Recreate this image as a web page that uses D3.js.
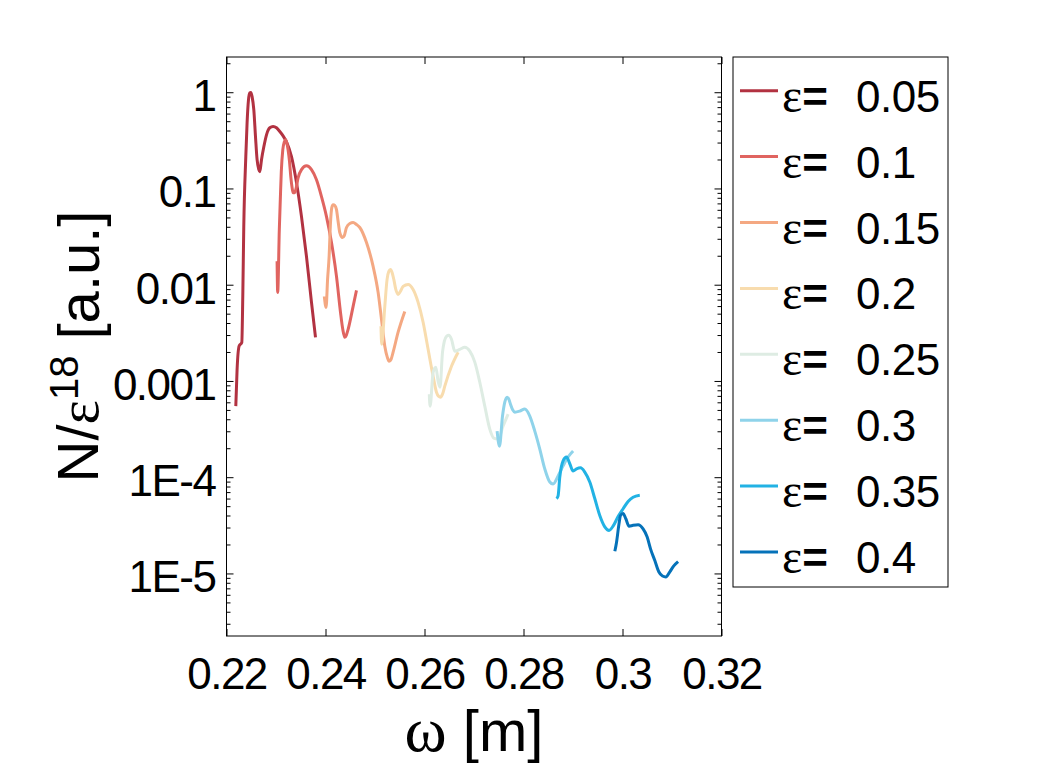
<!DOCTYPE html>
<html>
<head>
<meta charset="utf-8">
<script src="https://cdn.jsdelivr.net/npm/d3@7"></script>
<style>
  body { margin: 0; background: #fff; }
  text { font-family: "Liberation Sans", Arial, sans-serif; fill: #000; }
</style>
</head>
<body>
<div id="chart"></div>
<script>
// legend entries and line colours
const epsilons = ["0.05", "0.1", "0.15", "0.2", "0.25", "0.3", "0.35", "0.4"];
const colors = ["#b23241", "#e06460", "#f4a882", "#f8dcae", "#deece3", "#8fd3ea", "#22b2e4", "#0572b9"];

const xTicks = [0.22, 0.24, 0.26, 0.28, 0.30, 0.32];
const xTickLabels = ["0.22", "0.24", "0.26", "0.28", "0.3", "0.32"];
const yTicks = [1, 0.1, 0.01, 0.001, 1e-4, 1e-5];
const yTickLabels = ["1", "0.1", "0.01", "0.001", "1E-4", "1E-5"];

// eps = 0.05
const omega1 = [0.22188, 0.22214, 0.22255, 0.22309, 0.22329, 0.22349, 0.22390, 0.22416, 0.22444, 0.22471, 0.22491, 0.22517, 0.22552, 0.22586, 0.22618, 0.22653, 0.22673, 0.22707, 0.22754, 0.22808, 0.22875, 0.22941, 0.23010, 0.23077, 0.23143, 0.23212, 0.23313, 0.23414, 0.23515, 0.23616, 0.23717, 0.23798];
const n1 = [5.48e-4, 1.32e-3, 2.31e-3, 2.51e-3, 7.56e-3, 0.0402, 0.214, 0.481, 0.832, 0.984, 0.995, 0.90, 0.656, 0.344, 0.199, 0.157, 0.149, 0.199, 0.271, 0.361, 0.427, 0.44, 0.427, 0.391, 0.352, 0.305, 0.214, 0.115, 0.051, 0.0196, 0.00655, 0.00284];

// eps = 0.1
const omega2 = [0.23022, 0.23034, 0.23067, 0.23087, 0.23107, 0.23137, 0.23168, 0.23192, 0.23218, 0.23244, 0.23273, 0.23299, 0.23325, 0.23345, 0.23374, 0.23400, 0.23446, 0.23515, 0.23616, 0.23717, 0.23818, 0.23919, 0.24020, 0.24121, 0.24222, 0.24303, 0.24349, 0.24390, 0.24420, 0.24457, 0.24558, 0.24626];
const n2 = [0.0175, 0.00832, 0.0374, 0.0765, 0.149, 0.252, 0.305, 0.32, 0.298, 0.252, 0.19, 0.132, 0.102, 0.0904, 0.0904, 0.0972, 0.129, 0.157, 0.172, 0.157, 0.123, 0.0822, 0.051, 0.0274, 0.0122, 0.00516, 0.00344, 0.00284, 0.00298, 0.00344, 0.00596, 0.00873];

// eps = 0.15
const omega3 = [0.23976, 0.24012, 0.24042, 0.24073, 0.24101, 0.24127, 0.24154, 0.24188, 0.24222, 0.24255, 0.24289, 0.24343, 0.24380, 0.24424, 0.24491, 0.24558, 0.24626, 0.24693, 0.24828, 0.24962, 0.25063, 0.25131, 0.25198, 0.25248, 0.25285, 0.25325, 0.25366, 0.25467, 0.25602];
const n3 = [0.00756, 0.00582, 0.01135, 0.0196, 0.0442, 0.0632, 0.0679, 0.0664, 0.0603, 0.0453, 0.0348, 0.0309, 0.0324, 0.0393, 0.0432, 0.0442, 0.0422, 0.0393, 0.0274, 0.0155, 0.00832, 0.00437, 0.0023, 0.00177, 0.0016, 0.00168, 0.00199, 0.00321, 0.00528];

// eps = 0.2
const omega4 = [0.25121, 0.25135, 0.25198, 0.25244, 0.25279, 0.25313, 0.25345, 0.25380, 0.25420, 0.25467, 0.25511, 0.25568, 0.25669, 0.25770, 0.25871, 0.25972, 0.26073, 0.26174, 0.26242, 0.26283, 0.26323, 0.26364, 0.26410, 0.26545, 0.26679];
const n4 = [0.0037, 0.0024, 0.00596, 0.01135, 0.01374, 0.0144, 0.0134, 0.01135, 0.00893, 0.00793, 0.00851, 0.0096, 0.01007, 0.00893, 0.00656, 0.00407, 0.00213, 0.00112, 7.64e-4, 6.95e-4, 6.79e-4, 7.29e-4, 8.83e-4, 0.00142, 0.00199];

// eps = 0.25
const omega5 = [0.26097, 0.26113, 0.26174, 0.26228, 0.26279, 0.26313, 0.26364, 0.26400, 0.26444, 0.26491, 0.26545, 0.26612, 0.26713, 0.26814, 0.26915, 0.27016, 0.27117, 0.27218, 0.27319, 0.27400, 0.27487, 0.27588, 0.27689];
const n5 = [7.29e-4, 5.47e-4, 1.23e-3, 1.39e-3, 9.7e-4, 8.61e-4, 1.99e-3, 2.58e-3, 2.91e-3, 2.98e-3, 2.71e-3, 2.04e-3, 2.13e-3, 2.24e-3, 2.04e-3, 1.57e-3, 9.7e-4, 5.47e-4, 3.16e-4, 2.55e-4, 2.49e-4, 3.4e-4, 4.53e-4];

// eps = 0.3
const omega6 = [0.27467, 0.27515, 0.27576, 0.27622, 0.27669, 0.27703, 0.27737, 0.27784, 0.27824, 0.27925, 0.28026, 0.28127, 0.28228, 0.28329, 0.28430, 0.28531, 0.28598, 0.28699, 0.28800, 0.28901, 0.29002];
const n6 = [3.01e-4, 2.1e-4, 4.32e-4, 6.03e-4, 6.79e-4, 6.47e-4, 5.74e-4, 4.98e-4, 4.74e-4, 4.86e-4, 5.1e-4, 4.32e-4, 3.01e-4, 1.96e-4, 1.22e-4, 8.93e-5, 8.51e-5, 1.03e-4, 1.31e-4, 1.62e-4, 1.87e-4];

// eps = 0.35
const omega7 = [0.28667, 0.28699, 0.28733, 0.28800, 0.28869, 0.28935, 0.29002, 0.29071, 0.29152, 0.29238, 0.29339, 0.29440, 0.29541, 0.29642, 0.29729, 0.29810, 0.29911, 0.30012, 0.30113, 0.30214, 0.30349];
const n7 = [6.0e-5, 6.4e-5, 1.0e-4, 1.48e-4, 1.62e-4, 1.38e-4, 1.16e-4, 1.22e-4, 1.25e-4, 1.13e-4, 8.9e-5, 6.0e-5, 4.0e-5, 3.05e-5, 2.8e-5, 3.1e-5, 3.9e-5, 4.7e-5, 5.6e-5, 6.2e-5, 6.5e-5];

// eps = 0.4
const omega8 = [0.29845, 0.29879, 0.29925, 0.29960, 0.30012, 0.30067, 0.30133, 0.30214, 0.30315, 0.30416, 0.30497, 0.30566, 0.30653, 0.30733, 0.30808, 0.30875, 0.30956, 0.31036, 0.31123];
const n8 = [1.7e-5, 2.1e-5, 3.16e-5, 4.0e-5, 4.2e-5, 3.7e-5, 3.1e-5, 3.16e-5, 3.2e-5, 2.9e-5, 2.4e-5, 1.8e-5, 1.36e-5, 1.04e-5, 9.4e-6, 9.2e-6, 1.04e-5, 1.2e-5, 1.33e-5];

const omegas = [omega1, omega2, omega3, omega4, omega5, omega6, omega7, omega8];
const ns = [n1, n2, n3, n4, n5, n6, n7, n8];

const width = 1049;
const height = 766;
const plot = { left: 226.5, right: 721.5, top: 57, bottom: 636 };

const svg = d3.select("#chart")
    .append("svg")
    .attr("width", width)
    .attr("height", height);

const xScale = d3.scaleLinear()
    .domain([0.22, 0.32])
    .range([plot.left, plot.right]);

const yScale = d3.scaleLog()
    .domain([Math.pow(10, -5.65), Math.pow(10, 0.366)])
    .range([plot.bottom, plot.top]);

// minor ticks of the log axis
const yMinor = [];
for (let d = -6; d <= 0; d++) {
    for (let k = 2; k <= 9; k++) {
        const v = k * Math.pow(10, d);
        if (v > yScale.domain()[0] && v < yScale.domain()[1]) yMinor.push(v);
    }
}

const tickFont = g => g.selectAll("text")
    .style("font-size", "44px")
    .style("letter-spacing", "-1.5px");

const clean = g => g.select(".domain").remove();

// bottom and top x axes
svg.append("g")
    .attr("transform", `translate(0,${plot.bottom})`)
    .call(d3.axisBottom(xScale).tickValues(xTicks).tickSize(-7).tickPadding(22)
        .tickFormat((d, i) => xTickLabels[i]))
    .call(clean)
    .call(tickFont);

svg.append("g")
    .attr("transform", `translate(0,${plot.top})`)
    .call(d3.axisTop(xScale).tickValues(xTicks).tickSize(-7).tickFormat(""))
    .call(clean);

// left and right y axes
svg.append("g")
    .attr("transform", `translate(${plot.left},0)`)
    .call(d3.axisLeft(yScale).tickValues(yTicks).tickSize(-7).tickPadding(11)
        .tickFormat((d, i) => yTickLabels[i]))
    .call(clean)
    .call(tickFont)
    .call(g => g.selectAll("text").attr("dy", "0.42em"));

svg.append("g")
    .attr("transform", `translate(${plot.left},0)`)
    .call(d3.axisLeft(yScale).tickValues(yMinor).tickSize(-4).tickFormat(""))
    .call(clean);

svg.append("g")
    .attr("transform", `translate(${plot.right},0)`)
    .call(d3.axisRight(yScale).tickValues(yTicks).tickSize(-7).tickFormat(""))
    .call(clean);

svg.append("g")
    .attr("transform", `translate(${plot.right},0)`)
    .call(d3.axisRight(yScale).tickValues(yMinor).tickSize(-4).tickFormat(""))
    .call(clean);

svg.selectAll(".tick line").attr("stroke", "#000");

// frame
svg.append("rect")
    .attr("x", plot.left)
    .attr("y", plot.top)
    .attr("width", plot.right - plot.left)
    .attr("height", plot.bottom - plot.top)
    .attr("fill", "none")
    .attr("stroke", "#000")
    .attr("stroke-width", 1);

// curves
const line = d3.line()
    .x(d => xScale(d[0]))
    .y(d => yScale(d[1]))
    .curve(d3.curveMonotoneX);

omegas.forEach((om, i) => {
    const pts = om.map((w, j) => [w, ns[i][j]]);
    svg.append("path")
        .datum(pts)
        .attr("fill", "none")
        .attr("stroke", colors[i])
        .attr("stroke-width", 3)
        .attr("stroke-linejoin", "round")
        .attr("d", line);
});

// axis labels
const xLabel = svg.append("text")
    .attr("x", (plot.left + plot.right) / 2)
    .attr("y", 751)
    .attr("text-anchor", "middle")
    .style("font-size", "58px");
xLabel.append("tspan").style("font-family", "'Liberation Serif', serif").style("font-size", "64px").text("ω");
xLabel.append("tspan").text(" [m]");

const yLabel = svg.append("text")
    .attr("transform", `translate(98,${(plot.top + plot.bottom) / 2}) rotate(-90)`)
    .attr("text-anchor", "middle")
    .style("font-size", "58px");
yLabel.append("tspan").text("N/");
yLabel.append("tspan").style("font-family", "'Liberation Serif', serif").text("ε");
yLabel.append("tspan").attr("dy", "-0.5em").style("font-size", "40px").text("18");
yLabel.append("tspan").attr("dy", "0.36em").text(" [a.u.]");

// legend
const legend = svg.append("g");
legend.append("rect")
    .attr("x", 733)
    .attr("y", 57)
    .attr("width", 215)
    .attr("height", 530)
    .attr("fill", "#fff")
    .attr("stroke", "#000")
    .attr("stroke-width", 1);

epsilons.forEach((e, i) => {
    const yy = 90.7 + i * 65.9;
    legend.append("line")
        .attr("x1", 740).attr("x2", 778)
        .attr("y1", yy).attr("y2", yy)
        .attr("stroke", colors[i])
        .attr("stroke-width", 3);
    const t = legend.append("text")
        .attr("x", 782)
        .attr("y", yy + 21)
        .style("font-size", "44px");
    t.append("tspan").style("font-family", "'Liberation Serif', serif").style("font-size", "48px").text("ε");
    t.append("tspan").style("font-weight", "bold").text("=");
    legend.append("text")
        .attr("x", 856)
        .attr("y", yy + 21)
        .style("font-size", "44px")
        .style("letter-spacing", "-0.5px")
        .text(e);
});
</script>
</body>
</html>
